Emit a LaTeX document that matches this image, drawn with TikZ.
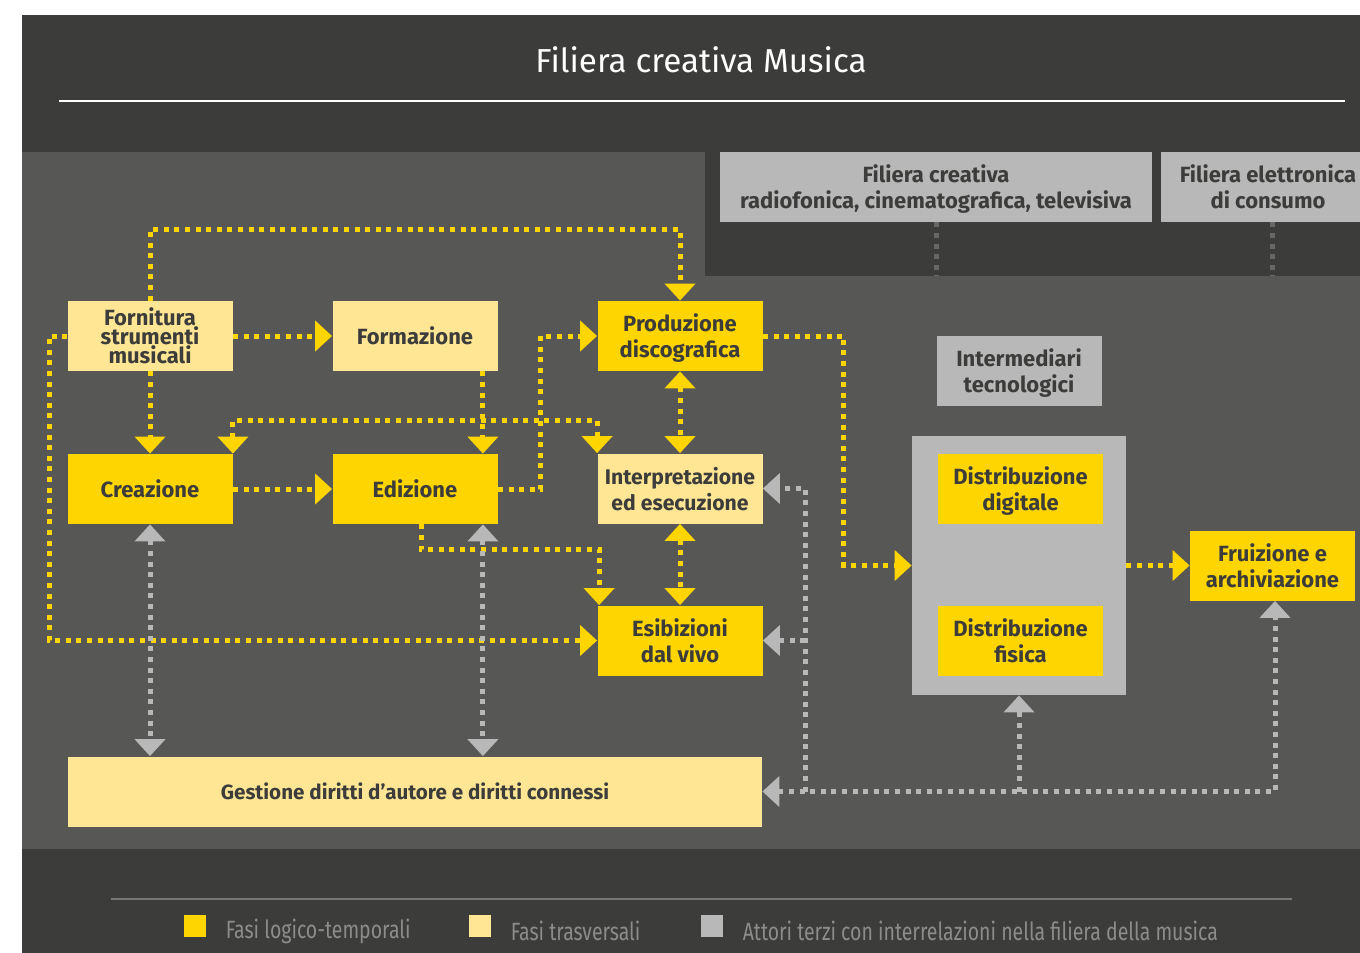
\documentclass[tikz,border=0pt]{standalone}
\usepackage{fontspec}
\setmainfont{Fira Sans}
\newfontfamily\legendfont[FakeStretch=0.78]{Fira Sans}
\usetikzlibrary{arrows.meta,positioning}
\definecolor{dark}{HTML}{3C3C3B}
\definecolor{panel}{HTML}{575756}
\definecolor{ey}{HTML}{FFD500}
\definecolor{eylight}{HTML}{FFE695}
\definecolor{eygray}{HTML}{B9B8B8}
\definecolor{faint}{HTML}{676766}
\definecolor{legendtxt}{HTML}{8C8C8B}
\tikzset{
 box/.style={minimum width=82.5pt,minimum height=35pt,inner sep=0pt,text depth=-2.5pt,align=center,text=dark,font=\bfseries\fontsize{11}{13}\selectfont},
 fase/.style={box,fill=ey},
 trasv/.style={box,fill=eylight},
 terzi/.style={box,fill=eygray},
 ylink/.style={ey,line width=2.5pt,dash pattern=on 2.5pt off 2.8pt},
 glink/.style={ylink,eygray},
 flink/.style={ylink,faint},
 onehead/.style={-{Triangle[width=15pt,length=8.5pt]}},
 twohead/.style={{Triangle[width=15pt,length=8.5pt]}-{Triangle[width=15pt,length=8.5pt]}},
 key/.style={minimum size=11pt,inner sep=0pt},
 keytext/.style={inner sep=0pt,text=legendtxt,font=\legendfont\fontsize{12.5}{14}\selectfont}
}
\begin{document}
\begin{tikzpicture}[x=0.5pt,y=-0.5pt]
\useasboundingbox (0,0) rectangle (1360,953);
\fill[white] (0,0) rectangle (1360,953);
\fill[dark] (22,15) rectangle (1360,953);
\fill[panel] (22,152) rectangle (1360,849);
\fill[dark] (705,152) rectangle (1360,276);
\node[white,font=\fontsize{16.6}{19}\selectfont] (title) at (701,60) {Filiera creativa Musica};
\draw[white,line width=1pt] (59,101) -- (1345,101);

\node[terzi,minimum width=216pt] (radio) at (936,187) {Filiera creativa\\radiofonica, cinematografica, televisiva};
\node[terzi,minimum width=107pt] (elettr) at (1268,187) {Filiera elettronica\\di consumo};
\draw[flink] (radio.south) -- ++(0,54);
\draw[flink] ([xshift=2pt]elettr.south) -- ++(0,54);

\node[trasv,font=\bfseries\fontsize{11}{9.5}\selectfont] (forn) at (150,336) {Fornitura\\strumenti\\musicali};
\node[trasv] (form) at (415,336) {Formazione};
\node[fase] (prod) at (680,336) {Produzione\\discografica};
\node[fase] (crea) at (150,489) {Creazione};
\node[fase] (edi) at (415,489) {Edizione};
\node[trasv,font=\bfseries\fontsize{10.6}{13}\selectfont] (interp) at (680,488.5) {Interpretazione\\ed esecuzione};
\node[fase] (esib) at (680,640.5) {Esibizioni\\dal vivo};
\node[trasv,minimum width=347pt,font=\bfseries\fontsize{10.3}{13}\selectfont] (gest) at (415,791.5) {Gestione diritti d’autore e diritti connessi};
\node[terzi] (interm) at (1019,371) {Intermediari\\tecnologici};
\node[fill=eygray,minimum width=107pt,minimum height=129.5pt,inner sep=0pt] (distr) at (1019,565.5) {};
\node[fase] (digi) at (1020.5,488.5) {Distribuzione\\digitale};
\node[fase] (fisi) at (1020.5,640.5) {Distribuzione\\fisica};
\node[fase] (frui) at (1272.5,565.5) {Fruizione e\\archiviazione};

\draw[ylink,onehead] (forn.north) -- ++(0,-71) -| (prod.north);
\draw[ylink,onehead] (forn) -- (form);
\draw[ylink,onehead] (forn) -- (crea);
\draw[ylink,onehead] (forn.west) -- ++(-18,0) |- (esib.west);
\draw[ylink,onehead] ([xshift=-7.5pt]form.south east) -- ([xshift=-7.5pt]edi.north east);
\draw[ylink,twohead] (crea.north east) -- ++(0,-33) -| (interp.north west);
\draw[ylink,onehead] (crea) -- (edi);
\draw[ylink,onehead] (edi.east) -- ++(43,0) |- (prod.west);
\draw[ylink,twohead] (prod) -- (interp);
\draw[ylink,twohead] (interp) -- (esib);
\draw[ylink,onehead] ([xshift=44.5pt]edi.south west) -- ++(0,25) -| ([xshift=1pt]esib.north west);
\draw[ylink,onehead] (prod.east) -- ++(81,0) |- (distr.west);
\draw[ylink,onehead] (distr) -- (frui);

\coordinate (e1) at ([xshift=-7.5pt]edi.south east);
\coordinate (g1) at ([xshift=21.5pt]gest.east);
\draw[glink,twohead] (crea.south) -- (crea.south |- gest.north);
\draw[glink,twohead] (e1) -- (e1 |- gest.north);
\draw[glink,twohead] (gest.east) -| ([xshift=1.25pt]frui.south);
\draw[glink,onehead] (distr.south |- gest.east) -- (distr.south);
\draw[glink,onehead] (g1) |- (interp.east);
\draw[glink,onehead] (g1 |- esib.east) -- (esib.east);

\draw[faint!90!white,line width=1pt] (111,899) -- (1292,899);
\node[key,fill=ey] (k1) at (195,926) {};
\node[keytext,right=9.5pt of k1,yshift=-2.5pt] (t1) {Fasi logico-temporali};
\node[key,fill=eylight] (k2) at (480,926) {};
\node[keytext,right=9.5pt of k2,yshift=-2.5pt] (t2) {Fasi trasversali};
\node[key,fill=eygray] (k3) at (712,926) {};
\node[keytext,right=9.5pt of k3,yshift=-2.5pt] (t3) {Attori terzi con interrelazioni nella filiera della musica};
\end{tikzpicture}
\end{document}
